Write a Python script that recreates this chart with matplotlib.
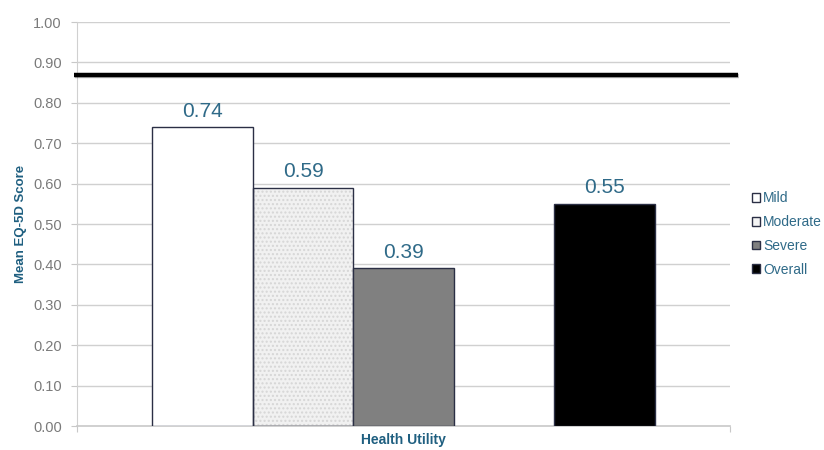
import matplotlib
matplotlib.use("Agg")
import matplotlib.pyplot as plt
import matplotlib.patheffects as pe
from matplotlib.patches import Patch

categories = ["Mild", "Moderate", "Severe", "Overall"]
values = [0.74, 0.59, 0.39, 0.55]
positions = [0, 1, 2, 4]
reference_value = 0.87
y_ticks = [0.0, 0.1, 0.2, 0.3, 0.4, 0.5, 0.6, 0.7, 0.8, 0.9, 1.0]

plt.rcParams["font.family"] = ["Liberation Sans", "DejaVu Sans"]

fills = ["#ffffff", "#f1f1f1", "#808080", "#000000"]
edge = "#2b2f45"
text_blue = "#2f6a88"
label_blue = "#1f5f80"

fig = plt.figure(figsize=(8.24, 4.5), dpi=100)
ax = fig.add_axes([77 / 824, 1 - 426 / 450, (730 - 77) / 824, (426 - 22) / 450])

xlim = (-1.25, 5.25)
ax.set_xlim(*xlim)
ax.set_ylim(0, 1.0)

for yv in y_ticks[1:]:
    ax.axhline(yv, color="#d0d0d0", lw=1.0, zorder=0)

for cat, pos, val, fc in zip(categories, positions, values, fills):
    if cat == "Moderate":
        ax.bar(pos, val, width=1.0, color=fc, edgecolor="#d6d6d6", hatch="....",
               linewidth=0, zorder=2)
        ax.bar(pos, val, width=1.0, facecolor="none", edgecolor=edge,
               linewidth=1.0, zorder=3)
    else:
        ax.bar(pos, val, width=1.0, color=fc, edgecolor=edge, linewidth=1.0,
               zorder=3)
    ax.text(pos, val + 0.016, f"{val:.2f}", ha="center", va="bottom",
            fontsize=15, color=text_blue)

# reference line, slightly wider than the plot area
ax.plot([-1.28, 5.33], [reference_value, reference_value], color="black", lw=3.2,
        clip_on=False, zorder=4, solid_capstyle="butt",
        path_effects=[pe.SimpleLineShadow(offset=(0.5, -0.8), alpha=0.25), pe.Normal()])

ax.set_yticks(y_ticks)
ax.set_yticklabels([f"{t:.2f}" for t in y_ticks], color="#7a7a7a", fontsize=10.5)
ax.set_xticks(list(xlim))
ax.tick_params(axis="y", length=4, color="#c8c8c8", pad=7)
ax.tick_params(axis="x", length=4, color="#c8c8c8", labelbottom=False)

for side in ["top", "right"]:
    ax.spines[side].set_visible(False)
ax.spines["left"].set_color("#d0d0d0")
ax.spines["bottom"].set_color("#c8c8c8")
ax.spines["bottom"].set_linewidth(1.2)

ax.set_ylabel("Mean EQ-5D Score", fontsize=9.5, fontweight="bold", color=label_blue, labelpad=4)
fig.text(403 / 824, 1 - 440 / 450, "Health Utility", ha="center", va="center",
         fontsize=10, fontweight="bold", color=label_blue)

handles = [
    Patch(facecolor="#ffffff", edgecolor=edge, label="Mild"),
    Patch(facecolor="#f4f4f4", edgecolor=edge, label="Moderate"),
    Patch(facecolor="#808080", edgecolor=edge, label="Severe"),
    Patch(facecolor="#000000", edgecolor=edge, label="Overall"),
]
leg = fig.legend(handles=handles, loc="center left", bbox_to_anchor=(745 / 824, 1 - 234 / 450),
                 frameon=False, fontsize=10, handlelength=0.6, handleheight=0.6,
                 handletextpad=0.2, labelspacing=0.7, borderpad=0)
for t in leg.get_texts():
    t.set_color(text_blue)

fig.savefig("out.png", dpi=100)
